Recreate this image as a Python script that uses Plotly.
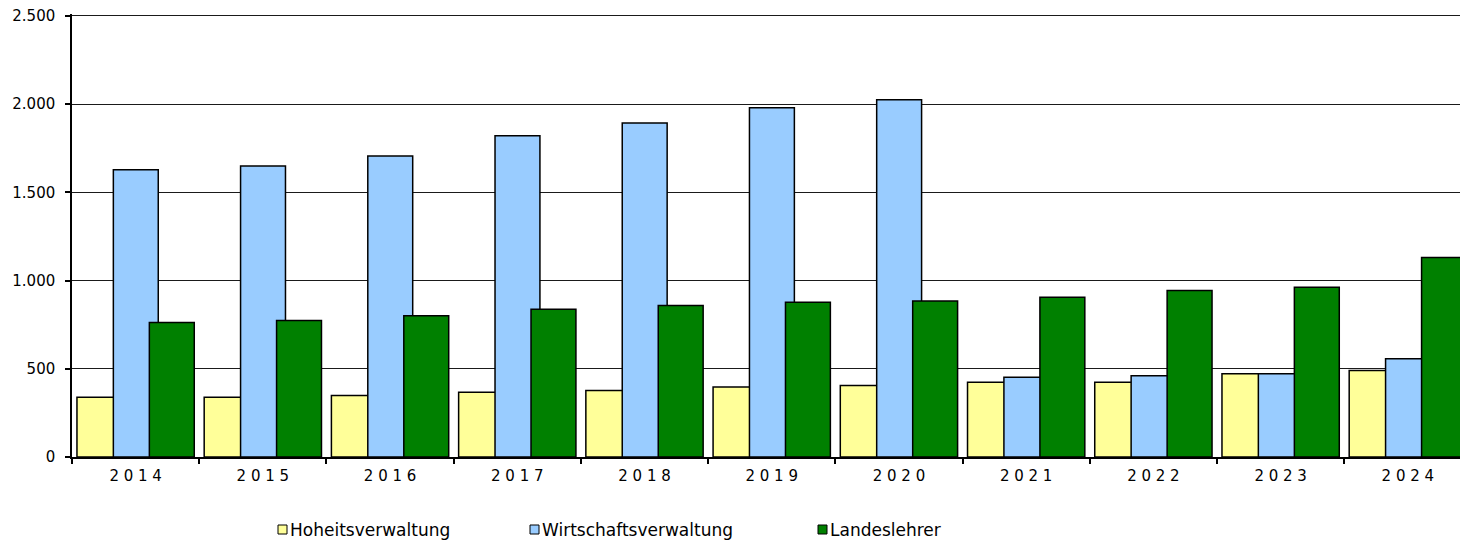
import plotly.graph_objects as go

YEARS = ["2014", "2015", "2016", "2017", "2018", "2019", "2020", "2021", "2022", "2023", "2024"]
TICK_LABELS = ["2 0 1 4", "2 0 1 5", "2 0 1 6", "2 0 1 7", "2 0 1 8", "2 0 1 9",
               "2 0 2 0", "2 0 2 1", "2 0 2 2", "2 0 2 3", "2 0 2 4"]

HOHEITSVERWALTUNG     = [339, 338, 348, 367, 377, 397, 405, 424, 424, 471, 490]
WIRTSCHAFTSVERWALTUNG = [1628, 1649, 1706, 1820, 1892, 1979, 2024, 452, 461, 471, 556]
LANDESLEHRER          = [762, 773, 801, 837, 858, 877, 884, 905, 943, 962, 1131]

Y_TICKS = [0, 500, 1000, 1500, 2000, 2500]

# plot area in pixels (the right end of the last group is cut off, as in the source)
W, H = 1460, 541
L, T, B = 72, 14, 84
PLOT_W = W - L
PLOT_H = H - T - B
X_RANGE = [-0.5, 10.41]
Y_RANGE = [0, 2510]   # a little headroom so the 2.500 gridline is drawn

AXIS_FONT = dict(family="DejaVu Sans, Verdana, sans-serif", size=15, color="#000000")
LEG_FONT  = dict(family="DejaVu Sans, Verdana, sans-serif", size=17, color="#000000")


def _px(x):
    return (x - L) / PLOT_W


def _py(y):
    return (H - B - y) / PLOT_H


series = [
    ("Hoheitsverwaltung",     HOHEITSVERWALTUNG,     "#FFFF99", -0.461),
    ("Wirtschaftsverwaltung", WIRTSCHAFTSVERWALTUNG, "#99CCFF", -0.175),
    ("Landeslehrer",          LANDESLEHRER,          "#008000",  0.108),
]

fig = go.Figure()
for name, vals, color, off in series:
    fig.add_trace(go.Bar(
        x=YEARS, y=vals, name=name,
        width=0.353, offset=off,
        marker=dict(color=color, line=dict(color="#000000", width=1.5)),
        hovertemplate=f"<b>{name}</b> %{{x}}: %{{y:,d}}<extra></extra>",
        showlegend=False,
    ))

fig.update_layout(
    width=W, height=H,
    margin=dict(l=L, r=0, t=T, b=B, pad=0),
    plot_bgcolor="white", paper_bgcolor="white",
    barmode="overlay",
    separators=",.",
    showlegend=False,
    xaxis=dict(
        type="category", categoryorder="array", categoryarray=YEARS,
        range=X_RANGE,
        tickmode="array", tickvals=YEARS, ticktext=TICK_LABELS,
        tickson="boundaries", ticks="outside", ticklen=5, tickwidth=1.5, tickcolor="#000000",
        ticklabelstandoff=4,
        showline=True, linecolor="#000000", linewidth=1.5,
        showgrid=False, zeroline=False,
        tickfont=AXIS_FONT,
    ),
    # small inner ticks at the group centres
    xaxis2=dict(
        overlaying="x", anchor="y", type="linear", range=X_RANGE,
        tickmode="array", tickvals=list(range(len(YEARS))),
        ticks="inside", ticklen=4, tickwidth=1.5, tickcolor="#000000",
        showticklabels=False, showgrid=False, showline=False, zeroline=False,
    ),
    yaxis=dict(
        range=Y_RANGE, tickmode="array", tickvals=Y_TICKS, tickformat=",d",
        ticks="outside", ticklen=5, tickwidth=1.5, tickcolor="#000000",
        ticklabelstandoff=7,
        showline=True, linecolor="#000000", linewidth=1.5,
        showgrid=True, gridcolor="#1a1a1a", gridwidth=1,
        zeroline=False,
        tickfont=AXIS_FONT,
    ),
)

# legend row below the plot
legend_items = [
    ("Hoheitsverwaltung",     "#FFFF99", 278),
    ("Wirtschaftsverwaltung", "#99CCFF", 530),
    ("Landeslehrer",          "#008000", 818),
]
for name, color, x0 in legend_items:
    fig.add_shape(
        type="rect", xref="paper", yref="paper",
        x0=_px(x0), x1=_px(x0 + 9), y0=_py(534), y1=_py(525),
        fillcolor=color, line=dict(color="#000000", width=1),
    )
    fig.add_annotation(
        text=name, xref="paper", yref="paper",
        x=_px(x0 + 10), y=_py(529.5), xanchor="left", yanchor="middle",
        showarrow=False, font=LEG_FONT,
    )

fig.write_html(
    "out.html",
    config={"displayModeBar": False},
    post_script="document.body.style.margin='0';document.body.style.overflow='hidden';",
)
